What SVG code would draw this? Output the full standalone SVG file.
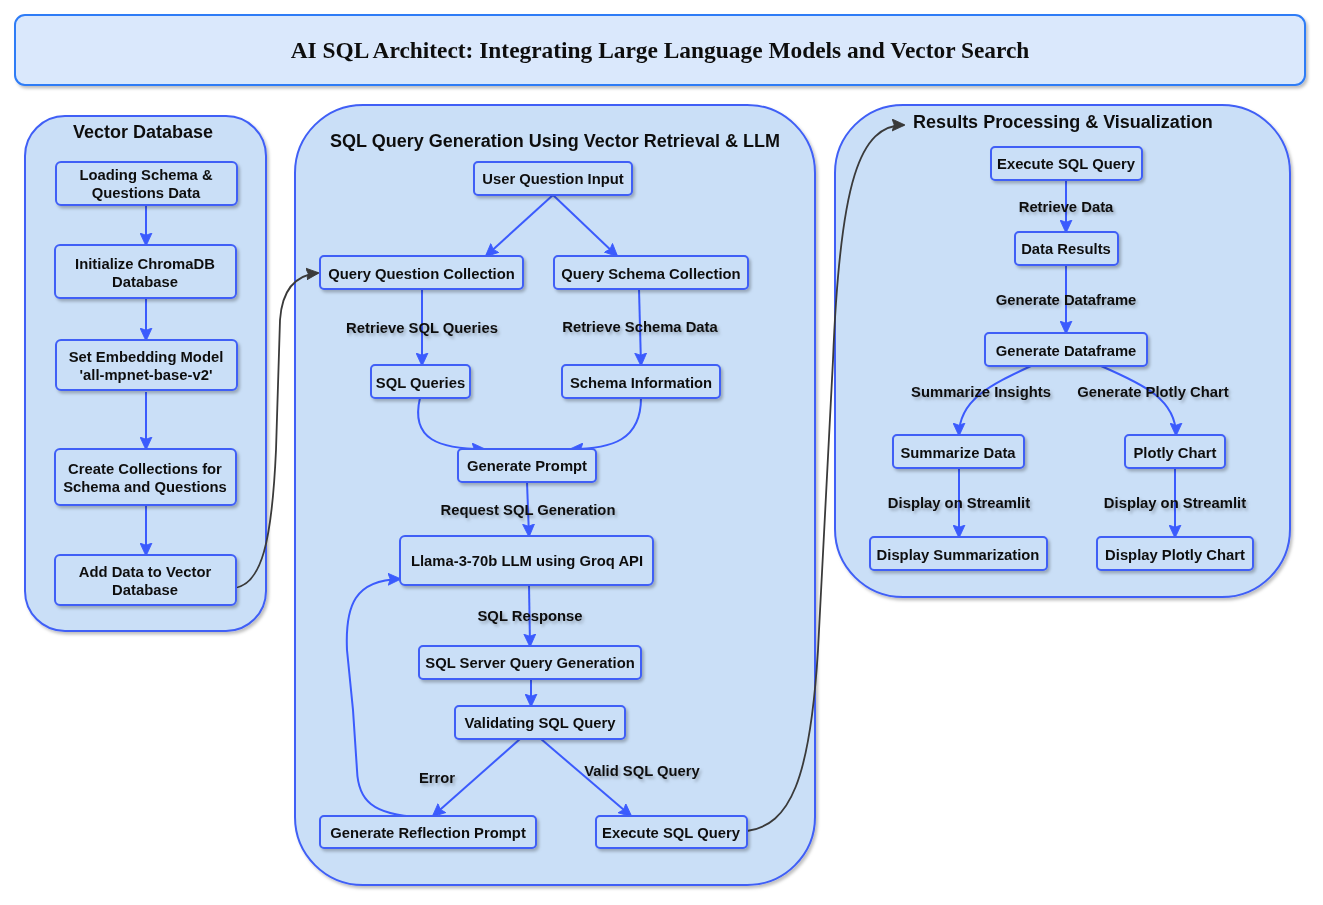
<svg xmlns="http://www.w3.org/2000/svg" width="1323" height="905" viewBox="0 0 1323 905">
<style>
.cont{fill:#cadff7;stroke:#3f5ff6;stroke-width:2}
.node{fill:#cadff7;stroke:#3f5ff6;stroke-width:2}
.t{font-family:"Liberation Sans",Arial,sans-serif;font-weight:bold;font-size:14.8px;fill:#111;text-anchor:middle}
.ct{font-family:"Liberation Sans",Arial,sans-serif;font-weight:bold;font-size:18px;fill:#111;text-anchor:middle}
.e{fill:none;stroke:#3b5bfd;stroke-width:2}
.g{fill:none;stroke:#3a3a3a;stroke-width:1.8}
</style>
<defs>
<filter id="sh" x="-10%" y="-10%" width="130%" height="140%">
<feDropShadow dx="2" dy="2.5" stdDeviation="1.5" flood-color="#000" flood-opacity="0.25"/>
</filter>
<marker id="ab" viewBox="0 0 12 12" refX="11" refY="6" markerWidth="13" markerHeight="13" markerUnits="userSpaceOnUse" orient="auto">
<path d="M0,0.5 L12,6 L0,11.5 L2,6 z" fill="#3b5bfd" stroke="#3b5bfd" stroke-width="0.8" stroke-linejoin="round"/>
</marker>
<marker id="ag" viewBox="0 0 12 12" refX="11" refY="6" markerWidth="13" markerHeight="13" markerUnits="userSpaceOnUse" orient="auto">
<path d="M0,0.5 L12,6 L0,11.5 L2,6 z" fill="#3a3a3a" stroke="#3a3a3a" stroke-width="0.8" stroke-linejoin="round"/>
</marker>
</defs>
<rect width="1323" height="905" fill="#ffffff"/>

<g id="title" filter="url(#sh)">
<rect x="15" y="15" width="1290" height="70" rx="10" fill="#dae8fc" stroke="#2e7cf6" stroke-width="2"/>
<text x="660" y="58" font-family="'Liberation Serif','Times New Roman',serif" font-weight="bold" font-size="23.4" fill="#111" text-anchor="middle">AI SQL Architect: Integrating Large Language Models and Vector Search</text>
</g>

<g id="vector-database" filter="url(#sh)">
<rect class="cont" x="25" y="116" width="241" height="515" rx="40"/>
<text class="ct" x="143" y="138">Vector Database</text>
</g>
<g id="sql-generation" filter="url(#sh)">
<rect class="cont" x="295" y="105" width="520" height="780" rx="68"/>
<text class="ct" x="555" y="147">SQL Query Generation Using Vector Retrieval &amp; LLM</text>
</g>
<g id="results-processing" filter="url(#sh)">
<rect class="cont" x="835" y="105" width="455" height="492" rx="68"/>
<text class="ct" x="1063" y="128">Results Processing &amp; Visualization</text>
</g>

<g id="connectors">
<path class="e" d="M146 205 L146 245" marker-end="url(#ab)"/>
<path class="e" d="M146 298 L146 340" marker-end="url(#ab)"/>
<path class="e" d="M146 392 L146 449" marker-end="url(#ab)"/>
<path class="e" d="M146 505 L146 555" marker-end="url(#ab)"/>
<path class="g" d="M234 588 C262 585, 272 540, 276 450 L280 320 C282 290, 295 275, 318 273" marker-end="url(#ag)"/>
<path class="e" d="M553 195 L486 256" marker-end="url(#ab)"/>
<path class="e" d="M553 195 L617 256" marker-end="url(#ab)"/>
<path class="e" d="M422 289 L422 365" marker-end="url(#ab)"/>
<path class="e" d="M639 289 L641 365" marker-end="url(#ab)"/>
<path class="e" d="M420 398 C410 440, 440 449, 484 449" marker-end="url(#ab)"/>
<path class="e" d="M641 398 C641 440, 612 449, 571 449" marker-end="url(#ab)"/>
<path class="e" d="M527 482 L529 536" marker-end="url(#ab)"/>
<path class="e" d="M529 585 L530 646" marker-end="url(#ab)"/>
<path class="e" d="M531 679 L531 706" marker-end="url(#ab)"/>
<path class="e" d="M520 739 L433 816" marker-end="url(#ab)"/>
<path class="e" d="M541 739 L631 816" marker-end="url(#ab)"/>
<path class="e" d="M420 817 C372 815, 358 800, 357 770 L353 710 L347 650 C345 605, 355 580, 400 579" marker-end="url(#ab)"/>
<path class="g" d="M747 831 C790 825, 810 780, 818 650 L833 360 C840 180, 860 125, 904 125" marker-end="url(#ag)"/>
<path class="e" d="M1066 180 L1066 232" marker-end="url(#ab)"/>
<path class="e" d="M1066 265 L1066 333" marker-end="url(#ab)"/>
<path class="e" d="M1031 366 C990 385, 959 400, 959 435" marker-end="url(#ab)"/>
<path class="e" d="M1101 366 C1145 385, 1176 400, 1176 435" marker-end="url(#ab)"/>
<path class="e" d="M959 468 L959 537" marker-end="url(#ab)"/>
<path class="e" d="M1175 468 L1175 537" marker-end="url(#ab)"/>
<g filter="url(#sh)">
<text class="t" x="422" y="333">Retrieve SQL Queries</text>
<text class="t" x="640" y="332">Retrieve Schema Data</text>
<text class="t" x="528" y="515">Request SQL Generation</text>
<text class="t" x="530" y="621">SQL Response</text>
<text class="t" x="437" y="783">Error</text>
<text class="t" x="642" y="776">Valid SQL Query</text>
<text class="t" x="1066" y="212">Retrieve Data</text>
<text class="t" x="1066" y="305">Generate Dataframe</text>
<text class="t" x="981" y="397">Summarize Insights</text>
<text class="t" x="1153" y="397">Generate Plotly Chart</text>
<text class="t" x="959" y="508">Display on Streamlit</text>
<text class="t" x="1175" y="508">Display on Streamlit</text>
</g>
</g>

<g id="n-loading" filter="url(#sh)"><rect class="node" x="56" y="162" width="181" height="43" rx="5"/><text class="t" x="146" y="180">Loading Schema &amp;</text><text class="t" x="146" y="198">Questions Data</text></g>
<g id="n-init" filter="url(#sh)"><rect class="node" x="55" y="245" width="181" height="53" rx="5"/><text class="t" x="145" y="269">Initialize ChromaDB</text><text class="t" x="145" y="287">Database</text></g>
<g id="n-embed" filter="url(#sh)"><rect class="node" x="56" y="340" width="181" height="50" rx="5"/><text class="t" x="146" y="362">Set Embedding Model</text><text class="t" x="146" y="380">'all-mpnet-base-v2'</text></g>
<g id="n-collections" filter="url(#sh)"><rect class="node" x="55" y="449" width="181" height="56" rx="5"/><text class="t" x="145" y="474">Create Collections for</text><text class="t" x="145" y="492">Schema and Questions</text></g>
<g id="n-adddata" filter="url(#sh)"><rect class="node" x="55" y="555" width="181" height="50" rx="5"/><text class="t" x="145" y="577">Add Data to Vector</text><text class="t" x="145" y="595">Database</text></g>

<g id="n-userq" filter="url(#sh)"><rect class="node" x="474" y="162" width="158" height="33" rx="4"/><text class="t" x="553" y="184">User Question Input</text></g>
<g id="n-qqc" filter="url(#sh)"><rect class="node" x="320" y="256" width="203" height="33" rx="4"/><text class="t" x="421.5" y="279">Query Question Collection</text></g>
<g id="n-qsc" filter="url(#sh)"><rect class="node" x="554" y="256" width="194" height="33" rx="4"/><text class="t" x="651" y="279">Query Schema Collection</text></g>
<g id="n-sqlq" filter="url(#sh)"><rect class="node" x="371" y="365" width="99" height="33" rx="4"/><text class="t" x="420.5" y="388">SQL Queries</text></g>
<g id="n-schema" filter="url(#sh)"><rect class="node" x="562" y="365" width="158" height="33" rx="4"/><text class="t" x="641" y="388">Schema Information</text></g>
<g id="n-genprompt" filter="url(#sh)"><rect class="node" x="458" y="449" width="138" height="33" rx="4"/><text class="t" x="527" y="471">Generate Prompt</text></g>
<g id="n-llama" filter="url(#sh)"><rect class="node" x="400" y="536" width="253" height="49" rx="5"/><text class="t" x="527" y="566">Llama-3-70b LLM using Groq API</text></g>
<g id="n-sqlserver" filter="url(#sh)"><rect class="node" x="419" y="646" width="222" height="33" rx="4"/><text class="t" x="530" y="668">SQL Server Query Generation</text></g>
<g id="n-validating" filter="url(#sh)"><rect class="node" x="455" y="706" width="170" height="33" rx="4"/><text class="t" x="540" y="728">Validating SQL Query</text></g>
<g id="n-reflection" filter="url(#sh)"><rect class="node" x="320" y="816" width="216" height="32" rx="4"/><text class="t" x="428" y="838">Generate Reflection Prompt</text></g>
<g id="n-execute1" filter="url(#sh)"><rect class="node" x="596" y="816" width="151" height="32" rx="4"/><text class="t" x="671" y="838">Execute SQL Query</text></g>

<g id="n-execute2" filter="url(#sh)"><rect class="node" x="991" y="147" width="151" height="33" rx="4"/><text class="t" x="1066" y="169">Execute SQL Query</text></g>
<g id="n-dataresults" filter="url(#sh)"><rect class="node" x="1015" y="232" width="103" height="33" rx="4"/><text class="t" x="1066" y="254">Data Results</text></g>
<g id="n-gendf" filter="url(#sh)"><rect class="node" x="985" y="333" width="162" height="33" rx="4"/><text class="t" x="1066" y="356">Generate Dataframe</text></g>
<g id="n-summarize" filter="url(#sh)"><rect class="node" x="893" y="435" width="131" height="33" rx="4"/><text class="t" x="958" y="458">Summarize Data</text></g>
<g id="n-plotly" filter="url(#sh)"><rect class="node" x="1125" y="435" width="100" height="33" rx="4"/><text class="t" x="1175" y="458">Plotly Chart</text></g>
<g id="n-dispsum" filter="url(#sh)"><rect class="node" x="870" y="537" width="177" height="33" rx="4"/><text class="t" x="958" y="560">Display Summarization</text></g>
<g id="n-dispplotly" filter="url(#sh)"><rect class="node" x="1097" y="537" width="156" height="33" rx="4"/><text class="t" x="1175" y="560">Display Plotly Chart</text></g>
</svg>
